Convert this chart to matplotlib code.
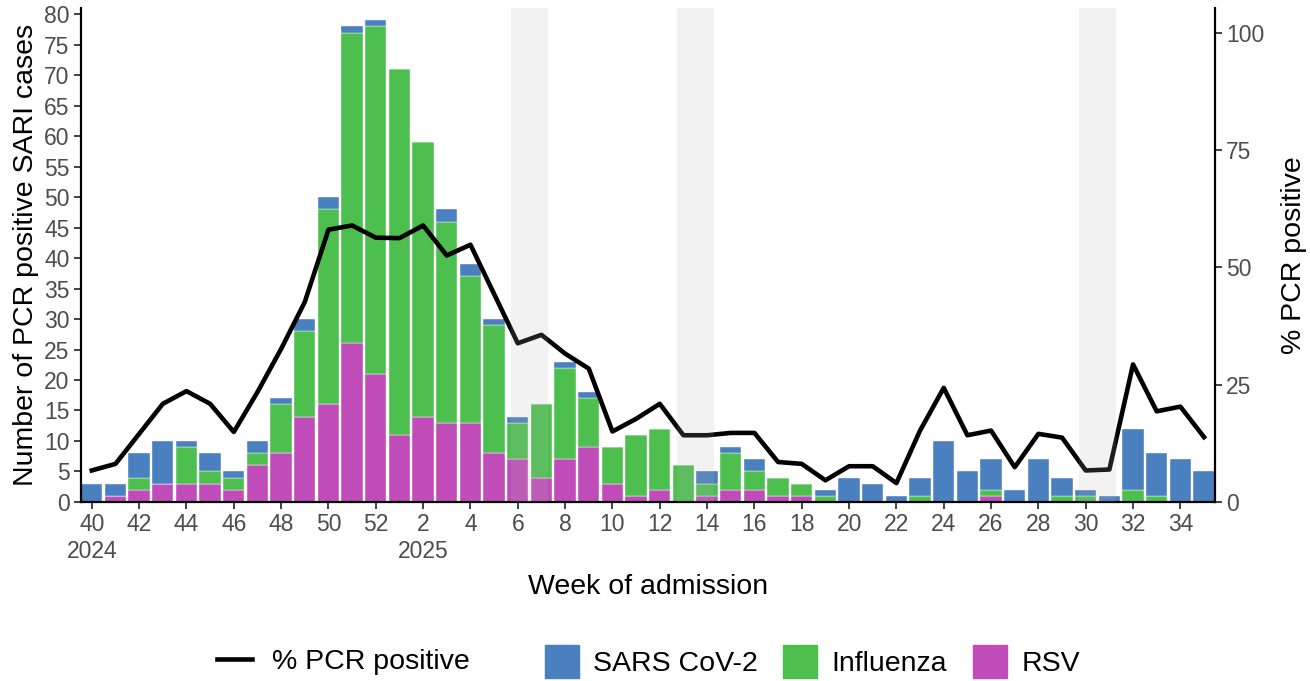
import numpy as np
import matplotlib
matplotlib.use("Agg")
import matplotlib.pyplot as plt
from matplotlib.lines import Line2D
from matplotlib.patches import Patch

plt.rcParams['font.family'] = ['Liberation Sans', 'DejaVu Sans']

# week of admission, 2024 w40 .. 2025 w35
weeks = list(range(40, 53)) + list(range(1, 36))
rsv = [0, 1, 2, 3, 3, 3, 2, 6, 8, 14, 16, 26, 21, 11, 14, 13, 13, 8, 7, 4,
       7, 9, 3, 1, 2, 0, 1, 2, 2, 1, 1, 0, 0, 0, 0, 0, 0, 0, 1, 0,
       0, 0, 0, 0, 0, 0, 0, 0]
flu = [0, 0, 2, 0, 6, 2, 2, 2, 8, 14, 32, 51, 57, 60, 45, 33, 24, 21, 6, 12,
       15, 8, 6, 10, 10, 6, 2, 6, 3, 3, 2, 1, 0, 0, 0, 1, 0, 0, 1, 0,
       0, 1, 1, 0, 2, 1, 0, 0]
sars = [3, 2, 4, 7, 1, 3, 1, 2, 1, 2, 2, 1, 1, 0, 0, 2, 2, 1, 1, 0,
        1, 1, 0, 0, 0, 0, 2, 1, 2, 0, 0, 1, 4, 3, 1, 3, 10, 5, 5, 2,
        7, 3, 1, 1, 10, 7, 7, 5]
pct = [6.7, 8.1, 14.5, 20.9, 23.6, 20.9, 14.9, 23.4, 32.6, 42.6,
       58.0, 58.9, 56.3, 56.2, 58.9, 52.5, 54.8, 44.3, 33.8, 35.6,
       31.6, 28.4, 15.0, 17.7, 20.9, 14.2, 14.2, 14.7, 14.7, 8.5,
       8.1, 4.6, 7.6, 7.6, 4.0, 15.2, 24.3, 14.2, 15.2, 7.4,
       14.5, 13.7, 6.7, 6.9, 29.3, 19.3, 20.3, 13.8]
shaded = [(18, 19), (25, 26), (42, 43)]  # weeks 6-7, 13-14, 30-31 (index)

c_sars = '#4A7FC0'
c_flu = '#4CBF4F'
c_rsv = '#BF4CB8'
tick_col = '#4D4D4D'

x = np.arange(len(weeks))
rsv = np.array(rsv); flu = np.array(flu); sars = np.array(sars)

fig = plt.figure(figsize=(13.1, 6.81), dpi=100)
ax = fig.add_axes([0.0616, 0.263, 0.866, 0.725])

ax.bar(x, rsv, width=0.9, color=c_rsv, edgecolor='white', linewidth=0.3)
ax.bar(x, flu, width=0.9, bottom=rsv, color=c_flu, edgecolor='white', linewidth=0.3)
ax.bar(x, sars, width=0.9, bottom=rsv + flu, color=c_sars, edgecolor='white', linewidth=0.3)

ax.set_xlim(-0.47, len(weeks) - 1 + 0.47)
ax.set_ylim(0, 81)
ax.set_yticks(np.arange(0, 81, 5))

tl = []
for i, w in enumerate(weeks):
    if w % 2 == 0:
        if i == 0:
            tl.append((i, '40\n2024'))
        elif w == 2:
            tl.append((i, '2\n2025'))
        else:
            tl.append((i, str(w)))
ax.set_xticks([t[0] for t in tl])
ax.set_xticklabels([t[1] for t in tl])

ax2 = ax.twinx()
ax2.plot(x, pct, color='black', lw=3.3, solid_joinstyle='round', zorder=3)
ax2.set_ylim(0, 105.2)
ax2.set_yticks([0, 25, 50, 75, 100])
for a, b in shaded:
    ax2.axvspan(a - 0.28, b + 0.28, color='#B4B4B4', alpha=0.17, lw=0, zorder=5)

for a in (ax, ax2):
    a.spines['top'].set_visible(False)
    for s in a.spines.values():
        s.set_linewidth(1.6)
        s.set_color('black')
    a.tick_params(labelsize=16.5, labelcolor=tick_col, length=5, width=1.3,
                  color='#333333', pad=3)
ax.spines['right'].set_visible(False)
ax2.spines['left'].set_visible(False)
ax2.spines['bottom'].set_visible(False)

ax.set_ylabel('Number of PCR positive SARI cases', fontsize=20.5, labelpad=4)
ax.set_xlabel('Week of admission', fontsize=20.5, labelpad=8)
ax2.set_ylabel('% PCR positive', fontsize=20.5, labelpad=12)

h1 = [Line2D([0], [0], color='black', lw=3.3)]
fig.legend(h1, ['% PCR positive'], loc='center', bbox_to_anchor=(0.262, 0.028),
           frameon=False, fontsize=20.5, handlelength=1.25, handletextpad=0.7)
h2 = [Patch(color=c_sars), Patch(color=c_flu), Patch(color=c_rsv)]
fig.legend(h2, ['SARS CoV-2', 'Influenza', 'RSV'], loc='center',
           bbox_to_anchor=(0.62, 0.028), ncol=3, frameon=False, fontsize=20.5,
           handlelength=1.2, handleheight=1.4, handletextpad=0.5, columnspacing=0.9)

fig.savefig('out.png', dpi=100)
